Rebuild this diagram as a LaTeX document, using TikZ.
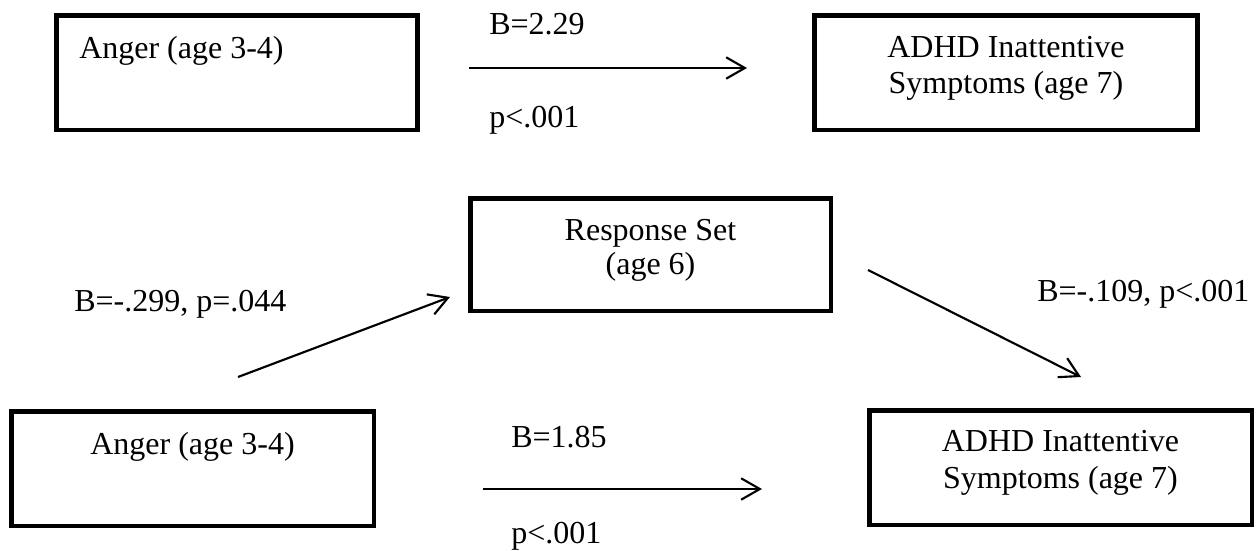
\documentclass[tikz,border=0pt]{standalone}
\usepackage{fontspec}
\setmainfont{Liberation Serif}
\usetikzlibrary{arrows.meta}
\begin{document}
\begin{tikzpicture}[x=0.75pt,y=-0.75pt,
  box/.style={draw=black,line width=3.4pt,rectangle,inner sep=0pt,fill=white},
  txt/.style={inner sep=0pt,font=\fontsize{24}{27}\selectfont},
  lbl/.style={txt,anchor=base west},
  path/.style={line width=1.6pt,-{Straight Barb[length=14pt,width=16pt,line width=1.6pt]}}]
\useasboundingbox (0,0) rectangle (1256,550);

% upper model: total effect
\node[box,minimum width=271.1pt,minimum height=85.9pt] (angerA) at (237,72.5) {};
\node[box,minimum width=287.6pt,minimum height=85.9pt] (adhdA) at (1006,72.5) {};
\node[lbl] (angerAtxt) at (79,58) {Anger (age 3-4)};
\node[txt,anchor=base] (adhdAtxt1) at (1006,57) {ADHD Inattentive};
\node[txt,anchor=base] (adhdAtxt2) at (1006,93) {Symptoms (age 7)};

\coordinate (cA1) at (469,68);
\coordinate (cA2) at (747,68);
\draw[path] (cA1) -- (cA2);
\node[lbl] (bA) at (489,34) {B=2.29};
\node[lbl] (pA) at (489,127) {p<.001};

% lower model: mediation through response set
\node[box,minimum width=270.4pt,minimum height=84.4pt] (resp) at (650.5,254.5) {};
\node[txt,anchor=base] (resptxt1) at (650.5,240) {Response Set};
\node[txt,anchor=base] (resptxt2) at (650.5,274) {(age 6)};

\node[box,minimum width=271.9pt,minimum height=85.9pt] (angerB) at (192.5,468.5) {};
\node[txt,anchor=base] (angerBtxt) at (192.5,454) {Anger (age 3-4)};

\node[box,minimum width=286.9pt,minimum height=85.9pt] (adhdB) at (1060.5,467.5) {};
\node[txt,anchor=base] (adhdBtxt1) at (1060.5,451) {ADHD Inattentive};
\node[txt,anchor=base] (adhdBtxt2) at (1060.5,488) {Symptoms (age 7)};

\coordinate (cB1) at (238,377);
\coordinate (cB2) at (450,297);
\draw[path] (cB1) -- (cB2);
\node[lbl] (bB) at (74,311) {B=-.299, p=.044};

\coordinate (cC1) at (868,270);
\coordinate (cC2) at (1081,377);
\draw[path] (cC1) -- (cC2);
\node[lbl] (bC) at (1037,301) {B=-.109, p<.001};

\coordinate (cD1) at (483,489);
\coordinate (cD2) at (762,489);
\draw[path] (cD1) -- (cD2);
\node[lbl] (bD) at (511,447) {B=1.85};
\node[lbl] (pD) at (511,543) {p<.001};
\end{tikzpicture}
\end{document}
